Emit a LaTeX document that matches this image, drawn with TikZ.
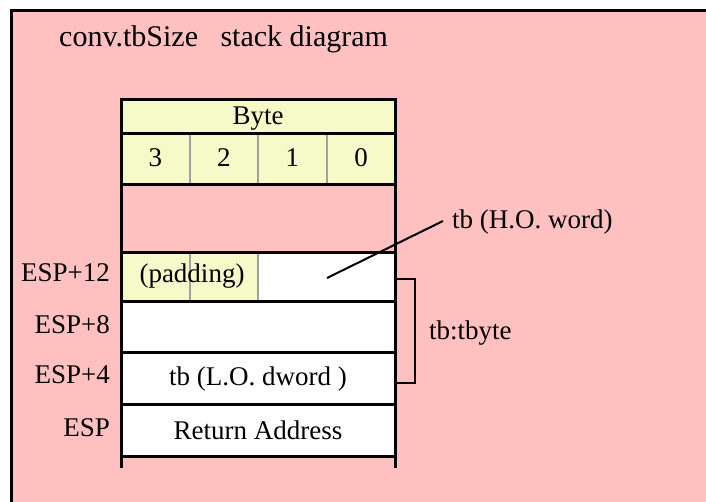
\documentclass[tikz,border=0pt]{standalone}
\usepackage{fontspec}
\setmainfont{Liberation Serif}
\definecolor{bgpink}{RGB}{255,192,192}
\definecolor{cellyel}{RGB}{246,250,200}
\definecolor{sepgray}{RGB}{160,160,160}
\begin{document}
\begin{tikzpicture}[x=1pt,y=-1pt,
  txt/.style={inner sep=0pt, font=\fontsize{27}{30}\selectfont},
  titletxt/.style={inner sep=0pt, font=\fontsize{30}{34}\selectfont},
  rowline/.style={line width=3pt, black},
  sepline/.style={line width=2pt, sepgray},
  thinline/.style={line width=2.5pt, black}]
\useasboundingbox (0,0) rectangle (706,502);
% background frame
\fill[white] (0,0) rectangle (706,502);
\fill[bgpink] (11.5,10.5) rectangle (706,502);
\draw[line width=3pt] (11.5,502) -- (11.5,10.5) -- (706,10.5);
% title
\node[titletxt, anchor=west] (title) at (59,39.5) {conv.tbSize\ \ \ stack diagram};
% cell fills
\fill[cellyel] (121,100) rectangle (395,184.5);
\fill[cellyel] (121,252.5) rectangle (258,302);
\fill[white] (258,252.5) rectangle (395,302);
\fill[white] (121,302) rectangle (395,456);
% gray separators
\draw[sepline] (189.5,134) -- (189.5,184.5);
\draw[sepline] (258,134) -- (258,184.5);
\draw[sepline] (327,134) -- (327,184.5);
\draw[sepline] (189.5,252.5) -- (189.5,302);
\draw[sepline] (258,252.5) -- (258,302);
% row lines
\foreach \yy in {100,134,184.5,252.5,302,352.5,404.5,456}
  \draw[rowline] (119.5,\yy) -- (396.5,\yy);
\draw[rowline] (121,98.5) -- (121,468);
\draw[rowline] (395,98.5) -- (395,468);
% cell texts
\node[txt] (byte) at (258,119) {Byte};
\node[txt] (b3) at (155.25,158) {3};
\node[txt] (b2) at (223.75,158) {2};
\node[txt] (b1) at (292.25,158) {1};
\node[txt] (b0) at (361,158) {0};
\node[txt] (pad) at (192,276) {(padding)};
\node[txt] (lodword) at (258,379) {tb (L.O. dword )};
\node[txt] (ret) at (258,430) {Return Address};
% ESP labels
\node[txt, anchor=east] (esp12) at (110,273) {ESP+12};
\node[txt, anchor=east] (esp8) at (110,325) {ESP+8};
\node[txt, anchor=east] (esp4) at (110,375) {ESP+4};
\node[txt, anchor=east] (esp) at (110,428) {ESP};
% bracket and labels
\coordinate (brtop) at (395,279);
\coordinate (brbot) at (395,383);
\draw[thinline] (brtop) -- (415,279) -- (415,383) -- (brbot);
\node[txt, anchor=west] (tbyte) at (429,333) {tb:tbyte};
\node[txt, anchor=west] (howord) at (452,222) {tb (H.O. word)};
\coordinate (hoend) at (327,278);
\draw[line width=2pt] (hoend) -- ([xshift=-9pt,yshift=1pt]howord.west);
\end{tikzpicture}
\end{document}
